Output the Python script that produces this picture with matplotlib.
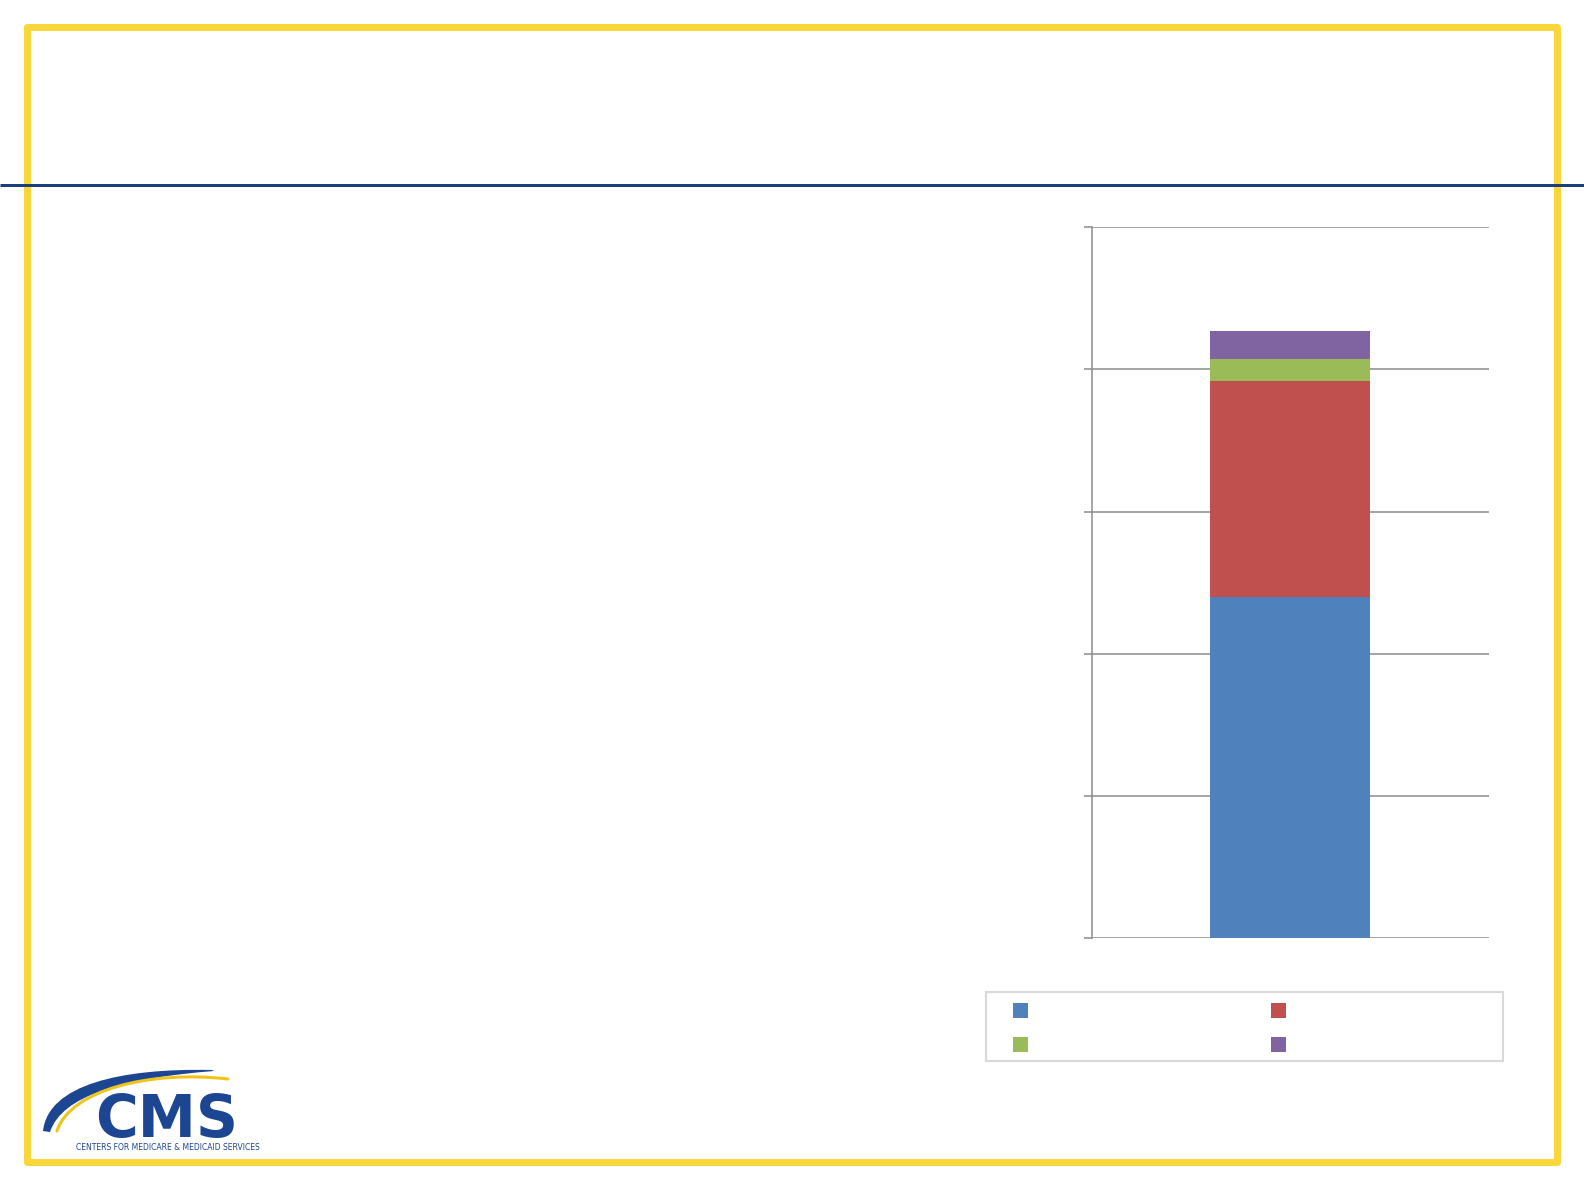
import matplotlib
matplotlib.use("Agg")
import matplotlib.pyplot as plt
from matplotlib.patches import Rectangle, PathPatch
from matplotlib.path import Path

# ---- data ----
categories = [""]
series_names = ["", "", "", ""]
series_values = {
    "s1": [2.40],
    "s2": [1.52],
    "s3": [0.15],
    "s4": [0.20],
}
series_colors = ["#4F81BD", "#C0504D", "#9BBB59", "#8064A2"]
yticks = [0, 1, 2, 3, 4, 5]

W, H = 1584, 1188
fig = plt.figure(figsize=(W / 100, H / 100), dpi=100)
fig.patch.set_facecolor("white")

# ---- decoration overlay (pixel coords) ----
bg = fig.add_axes([0, 0, 1, 1], zorder=0)
bg.set_xlim(0, W)
bg.set_ylim(H, 0)
bg.axis("off")

# yellow frame
bg.add_patch(Rectangle((26.5, 26.5), 1557 - 26.5, 1161.5 - 26.5, fill=False,
                       edgecolor="#F9D73B", linewidth=7 * 0.72, joinstyle="round"))
# blue rule
bg.plot([0, W], [184.5, 184.5], color="#1B3F7A", linewidth=3 * 0.72,
        solid_capstyle="butt", zorder=5)

# CMS logo: blue swoosh
logo_blue = "#1C4592"
verts = [(43, 1131), (48, 1085), (120, 1068), (212, 1070),
         (214, 1071),
         (125, 1078), (62, 1095), (50, 1132),
         (43, 1131)]
codes = [Path.MOVETO, Path.CURVE4, Path.CURVE4, Path.CURVE4,
         Path.LINETO,
         Path.CURVE4, Path.CURVE4, Path.CURVE4,
         Path.CLOSEPOLY]
bg.add_patch(PathPatch(Path(verts, codes), facecolor=logo_blue, edgecolor="none"))
# yellow arc
yv = [(57, 1131), (70, 1090), (150, 1070), (228, 1079)]
bg.add_patch(PathPatch(Path(yv, [Path.MOVETO, Path.CURVE4, Path.CURVE4, Path.CURVE4]),
                       facecolor="none", edgecolor="#F0C419", linewidth=2.2,
                       capstyle="round"))
bg.text(167, 1137, "CMS", ha="center", va="baseline", fontsize=42,
        fontweight="bold", color=logo_blue, family="DejaVu Sans")
bg.text(167.5, 1150, "CENTERS FOR MEDICARE & MEDICAID SERVICES", ha="center",
        va="baseline", fontsize=5.5, color=logo_blue, family="DejaVu Sans")

# ---- legend box ----
bg.add_patch(Rectangle((986, 991.5), 1503 - 986, 1061 - 991.5, fill=False,
                       edgecolor="#D9D9D9", linewidth=1.5))
leg_pos = [(1013, 1002.5), (1271, 1002.5), (1013, 1037), (1271, 1037)]
for (lx, ly), c in zip(leg_pos, series_colors):
    bg.add_patch(Rectangle((lx, ly), 15.2, 15.2, facecolor=c, edgecolor="none"))

# ---- main chart ----
ax = fig.add_axes([1091.7 / W, 1 - 937.8 / H, (1489 - 1091.7) / W, (937.8 - 227.3) / H],
                  zorder=2)
ax.set_facecolor("none")
bottom = [0.0]
for (name, vals), c in zip(series_values.items(), series_colors):
    ax.bar(range(len(categories)), vals, width=0.403, bottom=bottom, color=c,
           zorder=3)
    bottom = [b + v for b, v in zip(bottom, vals)]

ax.set_xlim(-0.5, 0.5)
ax.set_ylim(yticks[0], yticks[-1])
ax.set_yticks(yticks)
ax.set_yticklabels([""] * len(yticks))
ax.set_xticks([])
ax.yaxis.grid(True, color="#8C8C8C", linewidth=1.1, zorder=1)
ax.set_axisbelow(True)
ax.tick_params(axis="y", length=5.8, width=1.1, color="#8C8C8C", direction="out")
for s in ["top", "right", "bottom"]:
    ax.spines[s].set_visible(False)
ax.spines["left"].set_color("#8C8C8C")
ax.spines["left"].set_linewidth(1.1)

fig.savefig("out.png", dpi=100, facecolor="white")
